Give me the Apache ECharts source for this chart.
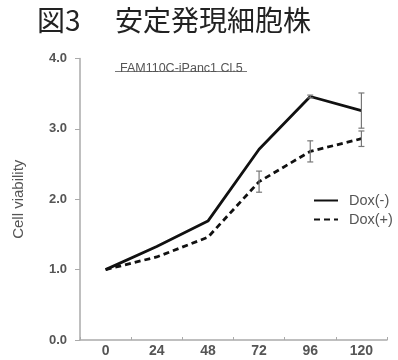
<!DOCTYPE html>
<html>
<head>
<meta charset="utf-8">
<script src="https://cdn.jsdelivr.net/npm/echarts@6/dist/echarts.min.js"></script>
<style>
html,body{margin:0;padding:0;background:#fff;}
#chart{width:398px;height:360px;}
</style>
</head>
<body>
<div id="chart"></div>
<script>
// Time points (hours)
const hours = ['0', '24', '48', '72', '96', '120'];
// Mean cell viability
const doxMinus = [1.0, 1.33, 1.69, 2.71, 3.46, 3.26];
const doxPlus = [1.0, 1.18, 1.46, 2.25, 2.68, 2.86];
// Standard deviation (error bars)
const doxMinusErr = [0, 0, 0, 0, 0.02, 0.25];
const doxPlusErr = [0, 0, 0, 0.15, 0.15, 0.11];
const yTicks = ['0.0', '1.0', '2.0', '3.0', '4.0'];

const chart = echarts.init(document.getElementById('chart'));

function errData(vals, errs) {
  const out = [];
  vals.forEach((v, i) => { if (errs[i] > 0) out.push([i, v - errs[i], v + errs[i]]); });
  return out;
}

function errRender(params, api) {
  const lo = api.coord([api.value(0), api.value(1)]);
  const hi = api.coord([api.value(0), api.value(2)]);
  const w = 3;
  const style = { stroke: '#777', lineWidth: 1.2 };
  return {
    type: 'group',
    children: [
      { type: 'line', shape: { x1: lo[0], y1: lo[1], x2: hi[0], y2: hi[1] }, style },
      { type: 'line', shape: { x1: lo[0] - w, y1: lo[1], x2: lo[0] + w, y2: lo[1] }, style },
      { type: 'line', shape: { x1: hi[0] - w, y1: hi[1], x2: hi[0] + w, y2: hi[1] }, style }
    ]
  };
}

const sans = 'Liberation Sans, Arial';

chart.setOption({
  animation: false,
  title: [
    {
      text: '図3',
      left: 32, top: 1,
      textStyle: { fontFamily: 'Noto Sans CJK JP', fontSize: 28, fontWeight: 'normal', color: '#222' }
    },
    {
      text: '安定発現細胞株',
      left: 110, top: 1,
      textStyle: { fontFamily: 'Noto Sans CJK JP', fontSize: 28, fontWeight: 'normal', color: '#222' }
    },
    {
      text: 'FAM110C-iPanc1 Cl.5',
      left: 115, top: 57,
      textStyle: { fontFamily: sans, fontSize: 12.5, fontWeight: 'normal', color: '#555' }
    }
  ],
  graphic: [
    { type: 'line', shape: { x1: 115, y1: 71.5, x2: 247, y2: 71.5 }, style: { stroke: '#666', lineWidth: 0.9 } }
  ],
  legend: {
    orient: 'vertical',
    left: 308, top: 188,
    itemWidth: 24, itemHeight: 14, itemGap: 4,
    itemStyle: { opacity: 0 },
    textStyle: { fontFamily: sans, fontSize: 14.5, color: '#555', padding: [0, 0, 0, 6] },
    data: ['Dox(-)', 'Dox(+)']
  },
  grid: { left: 80, right: 11, top: 58.5, bottom: 20 },
  xAxis: {
    type: 'category',
    data: hours,
    boundaryGap: true,
    axisLine: { lineStyle: { color: '#aaa', width: 1.5 } },
    axisTick: { show: true, inside: true, alignWithLabel: false, length: 3, lineStyle: { color: '#aaa' } },
    axisLabel: { fontFamily: sans, fontSize: 14, fontWeight: 'bold', color: '#555', margin: 4 }
  },
  yAxis: {
    type: 'value',
    min: 0, max: 4, interval: 1,
    name: 'Cell viability',
    nameLocation: 'middle',
    nameGap: 54,
    nameTextStyle: { fontFamily: sans, fontSize: 15, color: '#555' },
    splitLine: { show: false },
    axisLine: { show: true, lineStyle: { color: '#aaa', width: 1.5 } },
    axisTick: { show: true, length: 5, lineStyle: { color: '#aaa' } },
    axisLabel: {
      fontFamily: sans, fontSize: 13, fontWeight: 'bold', color: '#555', margin: 13,
      formatter: v => yTicks[Math.round(v)]
    }
  },
  series: [
    {
      name: 'Dox(-)', type: 'line', data: doxMinus,
      symbol: 'none',
      lineStyle: { color: '#111', width: 2.8 },
      itemStyle: { color: '#111' }
    },
    {
      name: 'Dox(+)', type: 'line', data: doxPlus,
      symbol: 'none',
      lineStyle: { color: '#111', width: 2.8, type: [6, 4] },
      itemStyle: { color: '#111' }
    },
    { type: 'custom', data: errData(doxMinus, doxMinusErr), renderItem: errRender, z: 5 },
    { type: 'custom', data: errData(doxPlus, doxPlusErr), renderItem: errRender, z: 5 }
  ]
});
</script>
</body>
</html>
